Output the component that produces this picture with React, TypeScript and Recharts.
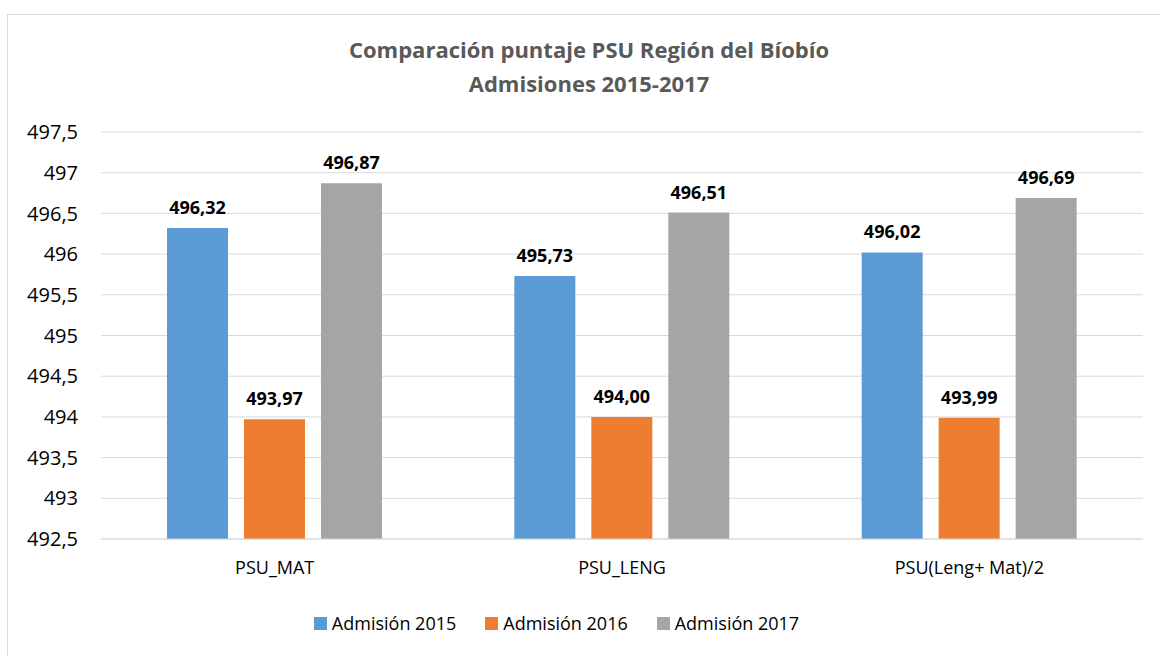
import { BarChart, Bar, XAxis, YAxis, CartesianGrid, LabelList } from "recharts";

const categories = ["PSU_MAT", "PSU_LENG", "PSU(Leng+ Mat)/2"];
const admision2015 = [496.32, 495.73, 496.02];
const admision2016 = [493.97, 494.0, 493.99];
const admision2017 = [496.87, 496.51, 496.69];
const yTicks = [492.5, 493, 493.5, 494, 494.5, 495, 495.5, 496, 496.5, 497, 497.5];

const series = [
  { key: "a2015", name: "Admisión 2015", color: "#5B9BD5" },
  { key: "a2016", name: "Admisión 2016", color: "#ED7D31" },
  { key: "a2017", name: "Admisión 2017", color: "#A5A5A5" },
];

const data = categories.map((c, i) => ({
  name: c,
  a2015: admision2015[i],
  a2016: admision2016[i],
  a2017: admision2017[i],
}));

const font = "'Open Sans', sans-serif";
const comma = (v: number) => String(v).replace(".", ",");
const fixed2 = (v: any) => Number(v).toFixed(2).replace(".", ",");

export default function App() {
  return (
    <div
      style={{
        position: "absolute",
        left: 0,
        top: 0,
        width: 1160,
        height: 656,
        overflow: "hidden",
        background: "#fff",
        fontFamily: font,
      }}
    >
      <div
        style={{
          position: "absolute",
          left: 7,
          top: 14,
          width: 1300,
          height: 800,
          border: "1px solid #d9d9d9",
        }}
      />
      <div
        style={{
          position: "absolute",
          left: 0,
          top: 32,
          width: 1178,
          textAlign: "center",
          color: "#595959",
          fontWeight: "bold",
          fontSize: 22,
          lineHeight: "34px",
        }}
      >
        Comparación puntaje PSU Región del Bíobío
        <br />
        Admisiones 2015-2017
      </div>
      <div style={{ position: "absolute", left: 0, top: 0 }}>
        <BarChart
          width={1160}
          height={656}
          data={data}
          margin={{ top: 132, right: 17, bottom: 87, left: 0 }}
          barCategoryGap="19%"
          barGap={16}
        >
          <CartesianGrid vertical={false} stroke="#d9d9d9" strokeWidth={1} />
          <XAxis
            dataKey="name"
            height={30}
            axisLine={{ stroke: "#d9d9d9", strokeWidth: 1 }}
            tickLine={false}
            tickSize={0}
            tickMargin={22}
            tick={{ fill: "#000", fontSize: 18, fontFamily: font }}
          />
          <YAxis
            width={101}
            domain={[492.5, 497.5]}
            ticks={yTicks}
            interval={0}
            allowDataOverflow
            axisLine={false}
            tickLine={false}
            tickSize={0}
            tickMargin={23}
            tickFormatter={comma}
            tick={{ fill: "#000", fontSize: 20, fontFamily: font }}
          />
          {series.map((s) => (
            <Bar key={s.key} dataKey={s.key} name={s.name} fill={s.color} isAnimationActive={false}>
              <LabelList
                dataKey={s.key}
                position="top"
                offset={14}
                formatter={fixed2}
                style={{ fill: "#000", fontWeight: "bold", fontSize: 18, fontFamily: font }}
              />
            </Bar>
          ))}
        </BarChart>
      </div>
      <div
        style={{
          position: "absolute",
          left: 0,
          top: 610,
          width: 1113,
          display: "flex",
          justifyContent: "center",
          gap: 29,
          fontSize: 18,
          color: "#000",
        }}
      >
        {series.map((s) => (
          <div key={s.key} style={{ display: "flex", alignItems: "center" }}>
            <span style={{ width: 13, height: 13, background: s.color, display: "inline-block", marginRight: 5 }} />
            <span style={{ lineHeight: "26px" }}>{s.name}</span>
          </div>
        ))}
      </div>
    </div>
  );
}
